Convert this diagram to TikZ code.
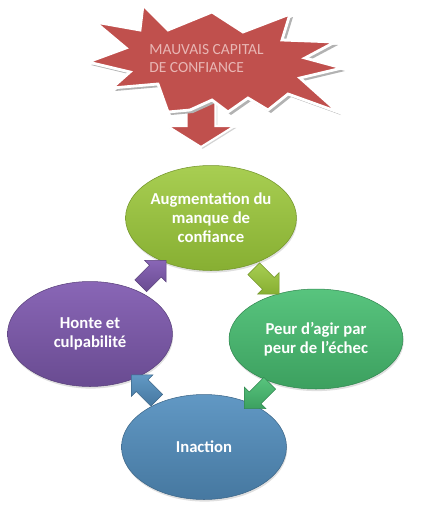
\documentclass[tikz,border=0pt]{standalone}
\usepackage{fontspec}
\setmainfont{Carlito}
\usetikzlibrary{shapes.geometric,shapes.arrows,calc,shadows}
\definecolor{burst}{RGB}{192,80,77}
\definecolor{bursttext}{RGB}{232,182,180}
\definecolor{limeA}{RGB}{168,206,82}
\definecolor{limeB}{RGB}{135,175,50}
\definecolor{greenA}{RGB}{88,196,126}
\definecolor{greenB}{RGB}{60,160,95}
\definecolor{blueA}{RGB}{97,152,196}
\definecolor{blueB}{RGB}{70,120,160}
\definecolor{purpleA}{RGB}{137,102,182}
\definecolor{purpleB}{RGB}{105,75,145}

\begin{document}
\begin{tikzpicture}[x=0.02cm, y=-0.02cm,
  main/.style = {ellipse, draw=#1B!85!black, line width=0.3pt, top color=#1A, bottom color=#1B, text=white, font=\bfseries\fontsize{9.5}{10.8}\selectfont, align=center, inner sep=0pt, minimum width=3.3cm, minimum height=2.1cm, drop shadow={opacity=0.25, shadow xshift=0.4pt, shadow yshift=-1.2pt}},
  flow/.style = {single arrow, draw=#1B!85!black, line width=0.3pt, top color=#1A, bottom color=#1B, inner xsep=0pt, inner ysep=0.16cm, minimum height=0.72cm, single arrow head extend=0.14cm}]
	\useasboundingbox (0,0) rectangle (423,514);
	% arrow under the burst
	\node[single arrow, rotate=-90, fill=burst, draw=white, line width=1.2pt, inner xsep=0pt, inner ysep=0.27cm, minimum height=0.9cm, single arrow head extend=0.38cm, single arrow tip angle=116, drop shadow={opacity=0.35, shadow xshift=1pt, shadow yshift=-1pt}] (down) at (201,120) {};
	% burst
	\fill[gray!60] ($(143,5)+(3,3)$) -- ++(25,25) -- ++(44,-18) -- ++(31,20) -- ++(47,-18) -- ++(-8,26) -- ++(53,2) -- ++(-30,16) -- ++(37,10) -- ++(-42,10) -- ++(38,34) -- ++(-50,-18) -- ++(-20,16) -- ++(-20,-12) -- ++(-20,14) -- ++(-16,-12) -- ++(-22,10) -- ++(-22,2) -- ++(-10,-28) -- ++(-46,4) -- ++(18,-16) -- ++(-42,-10) -- ++(38,-14) -- ++(-31,-26) -- ++(45,8) -- cycle;
	\draw[white, line width=1.6pt, fill=burst, line join=miter] (143,5) -- (168,30) -- (212,12) -- (243,32) -- (290,14) -- (282,40) -- (335,42) -- (305,58) -- (342,68) -- (300,78) -- (338,112) -- (288,94) -- (268,110) -- (248,98) -- (228,112) -- (212,100) -- (190,110) -- (168,112) -- (158,84) -- (112,88) -- (130,72) -- (88,62) -- (126,48) -- (95,22) -- (140,30) -- cycle;
	\node[anchor=north west, text=bursttext, align=left, inner sep=0pt, font=\fontsize{8.8}{10.5}\selectfont] (title) at (149,44) {MAUVAIS CAPITAL\\DE CONFIANCE};
	% cycle
	\node[main=lime] (aug) at (211,218) {Augmentation du\\manque de\\confiance};
	\node[main=green, minimum width=3.48cm, minimum height=2cm] (peur) at (316,339) {Peur d'agir par\\peur de l'échec};
	\node[main=blue] (inaction) at (204,447) {Inaction};
	\node[main=purple] (honte) at (90,334) {Honte et\\culpabilité};
	\node[flow=lime, rotate=-45] (a1) at ($(aug)!0.5!(peur)$) {};
	\node[flow=green, rotate=-135] (a2) at ($(peur)!0.5!(inaction)$) {};
	\node[flow=blue, rotate=135] (a3) at ($(inaction)!0.5!(honte)$) {};
	\node[flow=purple, rotate=45] (a4) at ($(honte)!0.5!(aug)$) {};
\end{tikzpicture}
\end{document}
